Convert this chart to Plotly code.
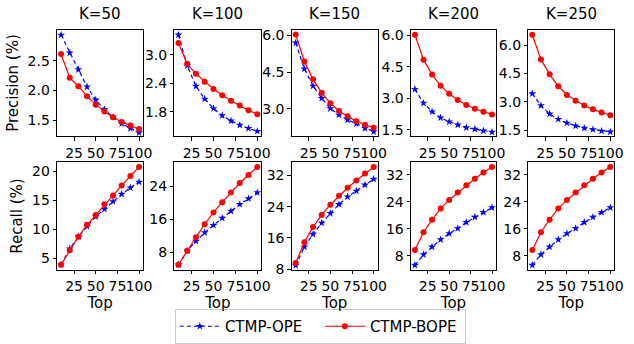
import plotly.graph_objects as go

top = [10, 20, 30, 40, 50, 60, 70, 80, 90, 100]
k_labels = ["K=50", "K=100", "K=150", "K=200", "K=250"]

prec_ope = [
    [2.93, 2.63, 2.35, 2.06, 1.84, 1.68, 1.55, 1.44, 1.36, 1.29],
    [3.42, 2.77, 2.34, 2.07, 1.87, 1.72, 1.61, 1.52, 1.45, 1.39],
    [5.69, 4.63, 3.93, 3.43, 3.01, 2.75, 2.55, 2.39, 2.20, 2.07],
    [3.43, 2.77, 2.36, 2.07, 1.88, 1.73, 1.60, 1.53, 1.45, 1.39],
    [3.44, 2.81, 2.37, 2.09, 1.89, 1.74, 1.62, 1.55, 1.47, 1.42],
]
prec_bope = [
    [2.61, 2.21, 2.07, 1.90, 1.76, 1.645, 1.55, 1.47, 1.41, 1.35],
    [3.25, 2.81, 2.60, 2.43, 2.28, 2.15, 2.03, 1.93, 1.83, 1.75],
    [6.03, 4.93, 4.20, 3.65, 3.23, 2.91, 2.69, 2.49, 2.35, 2.22],
    [6.03, 4.84, 4.13, 3.60, 3.21, 2.92, 2.68, 2.50, 2.36, 2.23],
    [6.55, 5.25, 4.46, 3.83, 3.37, 3.07, 2.81, 2.61, 2.45, 2.30],
]
rec_ope = [
    [3.9, 6.65, 8.75, 10.51, 12.22, 13.49, 14.82, 16.08, 17.19, 18.18],
    [4.99, 8.39, 10.71, 12.79, 14.57, 16.27, 17.97, 19.60, 20.99, 22.45],
    [8.98, 13.71, 16.98, 19.84, 22.29, 24.57, 26.53, 28.0, 29.55, 31.02],
    [5.24, 8.38, 10.65, 12.83, 14.64, 16.16, 17.96, 19.48, 20.90, 22.32],
    [5.24, 8.38, 10.65, 12.83, 14.64, 16.16, 17.96, 19.48, 20.90, 22.32],
]
rec_bope = [
    [3.9, 6.38, 8.75, 10.79, 12.5, 14.32, 15.86, 17.57, 19.23, 20.77],
    [4.99, 8.39, 11.64, 14.8, 17.66, 20.14, 22.45, 24.77, 26.7, 28.64],
    [9.63, 14.94, 18.78, 21.88, 24.49, 26.78, 28.82, 30.69, 32.49, 34.12],
    [9.7, 15.02, 18.72, 22.04, 24.6, 26.78, 28.96, 30.86, 32.76, 34.37],
    [9.7, 15.02, 18.72, 22.04, 24.6, 26.78, 28.96, 30.86, 32.76, 34.37],
]

prec_ticks = [
    [1.5, 2.0, 2.5],
    [1.8, 2.4, 3.0],
    [3.0, 4.5, 6.0],
    [1.5, 3.0, 4.5, 6.0],
    [1.5, 3.0, 4.5, 6.0],
]
prec_ranges = [[1.226, 3.02], [1.28, 3.53], [1.87, 6.23], [1.18, 6.27], [1.18, 6.82]]
rec_ticks = [
    [5, 10, 15, 20],
    [8, 16, 24],
    [8, 16, 24, 32],
    [8, 16, 24, 32],
    [8, 16, 24, 32],
]
rec_ranges = [[3.0, 21.6], [3.75, 29.8], [7.84, 35.35], [3.82, 35.8], [3.82, 35.8]]
x_ticks = [25, 50, 75, 100]

W, H = 634, 344
lefts = [58, 177, 296, 417, 536]
rights = [145, 265, 383, 503, 623]
row_px = [(29, 141), (168, 281)]

FONT = "DejaVu Sans"
FS = 14
FT = 15
BLUE = "#0000ff"
RED = "#ff0000"

fig = go.Figure()
layout = {}
ax_i = 0
for r in range(2):
    for c in range(5):
        ax_i += 1
        xa = "xaxis" if ax_i == 1 else f"xaxis{ax_i}"
        ya = "yaxis" if ax_i == 1 else f"yaxis{ax_i}"
        xr = "x" if ax_i == 1 else f"x{ax_i}"
        yr = "y" if ax_i == 1 else f"y{ax_i}"
        if r == 0:
            y1, y2 = prec_ope[c], prec_bope[c]
            yt, yrng = prec_ticks[c], prec_ranges[c]
            ytxt = [f"{v:.1f}" for v in yt]
        else:
            y1, y2 = rec_ope[c], rec_bope[c]
            yt, yrng = rec_ticks[c], rec_ranges[c]
            ytxt = [f"{v:d}" for v in yt]
        show = (ax_i == 1)
        fig.add_trace(go.Scatter(
            x=top, y=y1, xaxis=xr, yaxis=yr, mode="lines+markers",
            name="CTMP-OPE", legendgroup="ope", showlegend=show,
            line=dict(color=BLUE, width=1.2, dash="4px,3px"),
            marker=dict(symbol="star", size=6, color=BLUE, line=dict(width=0))))
        fig.add_trace(go.Scatter(
            x=top, y=y2, xaxis=xr, yaxis=yr, mode="lines+markers",
            name="CTMP-BOPE", legendgroup="bope", showlegend=show,
            line=dict(color=RED, width=1.2),
            marker=dict(symbol="circle", size=6, color=RED, line=dict(width=0))))
        top_px, bot_px = row_px[r]
        common = dict(showline=True, linecolor="black", linewidth=1, mirror=True,
                      ticks="outside", ticklen=3.5, tickwidth=1, tickcolor="black",
                      showgrid=False, zeroline=False, tickangle=0,
                      tickfont=dict(family=FONT, size=FS, color="black"))
        layout[xa] = dict(domain=[lefts[c] / W, rights[c] / W], anchor=yr,
                          range=[5.5, 104.5], tickvals=x_ticks,
                          ticktext=[str(v) for v in x_ticks], **common)
        if r == 1:
            layout[xa]["title"] = dict(text="Top", standoff=2,
                                       font=dict(family=FONT, size=FT, color="black"))
        layout[ya] = dict(domain=[1 - bot_px / H, 1 - top_px / H], anchor=xr,
                          range=yrng, tickvals=yt, ticktext=ytxt, **common)
        if c == 0:
            layout[ya]["title"] = dict(text="Precision (%)" if r == 0 else "Recall (%)",
                                       standoff=5,
                                       font=dict(family=FONT, size=FT, color="black"))

annotations = []
for c in range(5):
    annotations.append(dict(text=k_labels[c], x=(lefts[c] + rights[c]) / 2 / W,
                            y=1 - 24 / H, xref="paper", yref="paper",
                            xanchor="center", yanchor="bottom", showarrow=False,
                            font=dict(family=FONT, size=FT, color="black")))

fig.update_layout(
    width=W, height=H, margin=dict(l=0, r=0, t=0, b=0),
    paper_bgcolor="white", plot_bgcolor="white",
    font=dict(family=FONT, size=FS, color="black"),
    annotations=annotations,
    legend=dict(orientation="h", x=325 / W, xanchor="center", y=1 - 322 / H, yanchor="top",
                bordercolor="#cccccc", borderwidth=1, bgcolor="white",
                font=dict(family=FONT, size=FT, color="black"),
                itemwidth=40, tracegroupgap=0, entrywidth=90),
    **layout,
)

fig.write_html("out.html")
